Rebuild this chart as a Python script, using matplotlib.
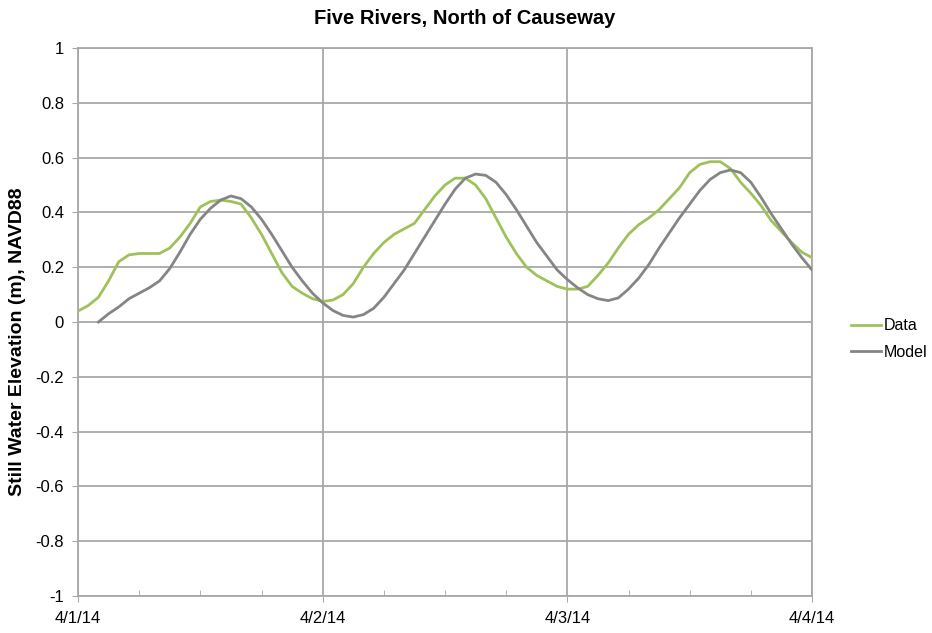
import numpy as np
import matplotlib
matplotlib.use("Agg")
import matplotlib.pyplot as plt
from matplotlib.ticker import MultipleLocator

plt.rcParams['font.family'] = ['Liberation Sans', 'DejaVu Sans']

title = "Five Rivers, North of Causeway"
ylabel = "Still Water Elevation (m), NAVD88"
date_labels = ["4/1/14", "4/2/14", "4/3/14", "4/4/14"]

# hourly samples from 4/1/14 00:00 to 4/4/14 00:00
hours = np.arange(73)

data_vals = [
    0.04, 0.06, 0.09, 0.15, 0.22, 0.245, 0.25, 0.25, 0.25, 0.27,
    0.31, 0.36, 0.42, 0.44, 0.445, 0.44, 0.43, 0.38, 0.32, 0.25,
    0.18, 0.13, 0.105, 0.085, 0.075, 0.08, 0.10, 0.14, 0.20, 0.25,
    0.29, 0.32, 0.34, 0.36, 0.41, 0.46, 0.50, 0.525, 0.525, 0.50,
    0.45, 0.38, 0.31, 0.25, 0.20, 0.17, 0.15, 0.13, 0.12, 0.12,
    0.13, 0.17, 0.215, 0.27, 0.32, 0.355, 0.38, 0.41, 0.45, 0.49,
    0.545, 0.575, 0.585, 0.585, 0.56, 0.51, 0.47, 0.425, 0.37, 0.33,
    0.29, 0.255, 0.235,
]

model_vals = [
    np.nan, np.nan, 0.0, 0.03, 0.055, 0.085, 0.105, 0.125, 0.15, 0.195,
    0.255, 0.32, 0.375, 0.415, 0.445, 0.46, 0.45, 0.42, 0.375, 0.32,
    0.26, 0.20, 0.15, 0.105, 0.07, 0.042, 0.024, 0.018, 0.027, 0.05,
    0.09, 0.14, 0.19, 0.25, 0.31, 0.37, 0.43, 0.485, 0.525, 0.54,
    0.535, 0.51, 0.465, 0.41, 0.35, 0.29, 0.24, 0.19, 0.155, 0.125,
    0.10, 0.085, 0.078, 0.088, 0.12, 0.16, 0.21, 0.27, 0.325, 0.38,
    0.43, 0.48, 0.52, 0.545, 0.555, 0.545, 0.51, 0.455, 0.395, 0.34,
    0.285, 0.235, 0.19,
]

days = hours / 24.0

W, H = 932, 633
fig = plt.figure(figsize=(W / 100, H / 100), dpi=100)
ax = fig.add_axes([78/W, 1 - 596/H, (812 - 78)/W, (596 - 48)/H])

grid_c = "#a8a8a8"
ax.plot(days, data_vals, color="#a0c15a", lw=2.0, label="Data", zorder=3)
ax.plot(days, model_vals, color="#858585", lw=2.0, label="Model", zorder=4)

ax.set_xlim(0, 3)
ax.set_ylim(-1, 1)
ax.set_xticks([0, 1, 2, 3])
ax.set_xticklabels(date_labels)
ax.xaxis.set_minor_locator(MultipleLocator(0.25))
ax.yaxis.set_major_locator(MultipleLocator(0.2))
ax.set_yticklabels([f"{v:g}" for v in np.round(ax.get_yticks(), 1)])

ax.grid(True, which="major", color=grid_c, lw=1.3, zorder=1)
for s in ax.spines.values():
    s.set_color(grid_c)
    s.set_linewidth(1.3)

ax.tick_params(axis="x", which="major", direction="out", length=4, color=grid_c,
               labelsize=12, pad=7)
ax.tick_params(axis="x", which="minor", direction="in", length=4, color=grid_c)
ax.tick_params(axis="y", which="major", direction="out", length=4, color=grid_c,
               labelsize=12, pad=6)

fig.text(18/W, 1 - 342/H, ylabel, rotation=90, ha="center", va="center",
         fontsize=14, fontweight="bold")
fig.text(465/W, 1 - 19/H, title, ha="center", va="center",
         fontsize=14.5, fontweight="bold")

leg = fig.legend(loc="center left", bbox_to_anchor=(851/W, 1 - 339/H),
                 bbox_transform=fig.transFigure, frameon=False,
                 fontsize=11.5, handlelength=1.9, handletextpad=0.15,
                 labelspacing=0.7, borderpad=0, borderaxespad=0)

fig.savefig("out.png", dpi=100)
